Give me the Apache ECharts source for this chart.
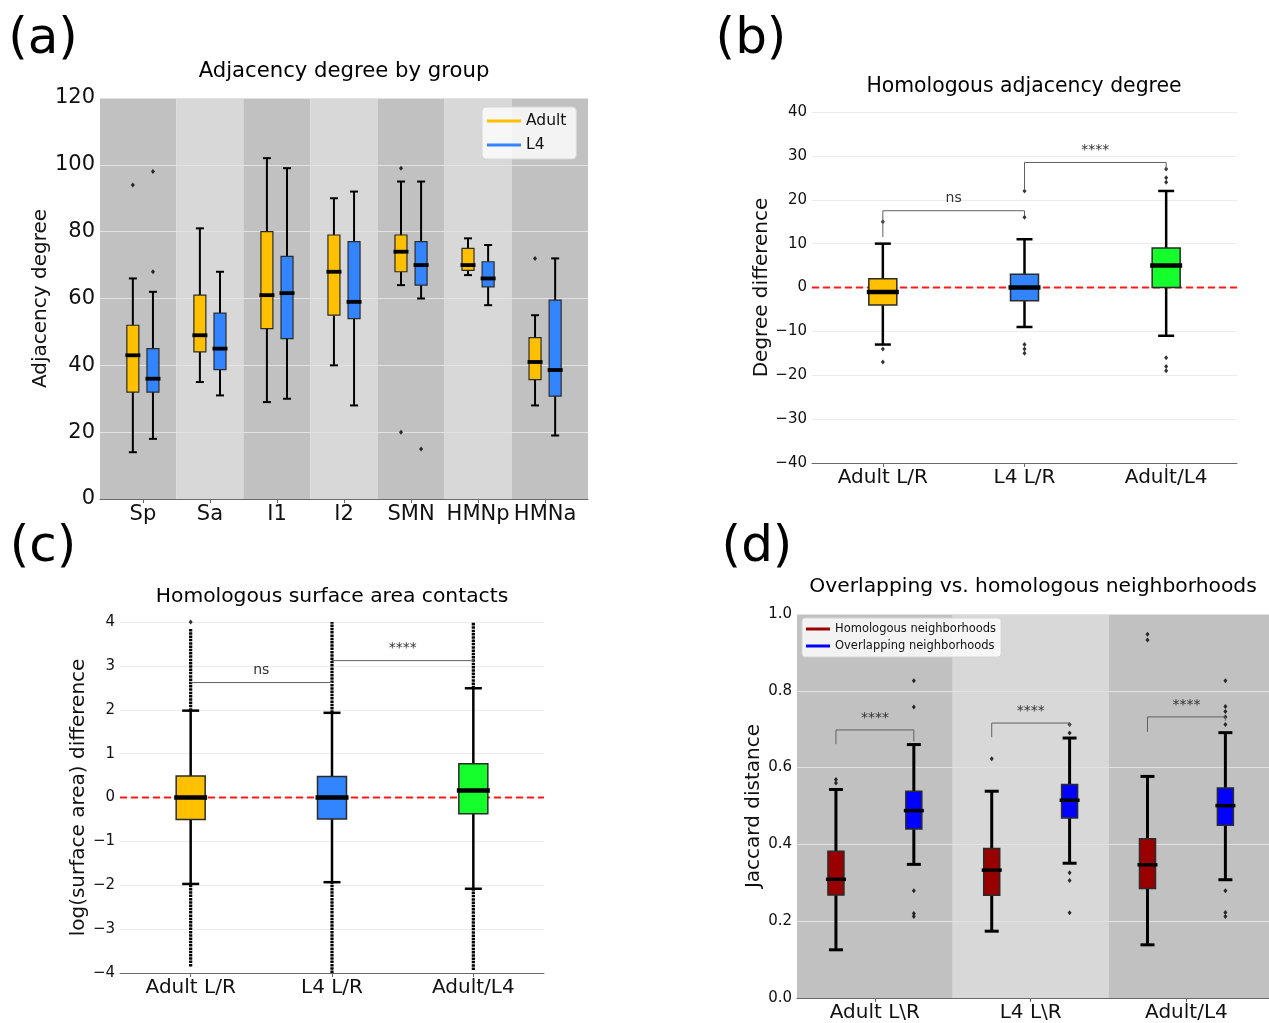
<!DOCTYPE html>
<html>
<head>
<meta charset="utf-8">
<title>Adjacency degree and neighborhood comparisons</title>
<script src="https://cdn.jsdelivr.net/npm/echarts@6/dist/echarts.min.js"></script>
<style>
  html, body { margin: 0; padding: 0; background: #fff; }
  #chart { width: 1269px; height: 1023px; }
</style>
</head>
<body>
<div id="chart"></div>
<script>
// (a) adjacency degree by group, boxes are [min, q1, median, q3, max]
const groupNames = ['Sp', 'Sa', 'I1', 'I2', 'SMN', 'HMNp', 'HMNa'];
const adultDegree = [
  [14, 32, 43, 52, 66],
  [35, 44, 49, 61, 81],
  [29, 51, 61, 80, 102],
  [40, 55, 68, 79, 90],
  [64, 68, 74, 79, 95],
  [67, 68.4, 70, 75, 78],
  [28, 35.7, 41, 48.3, 55]
];
const l4Degree = [
  [18, 32, 36, 45, 62],
  [31, 38.7, 45, 55.6, 68],
  [30, 48, 61.6, 72.6, 99],
  [28, 54, 59, 77, 92],
  [60, 64, 70, 77, 95],
  [58, 63.5, 66, 71, 76],
  [19, 30.8, 38.6, 59.5, 72]
];
// [group index, value]
const adultDegreeOutliers = [[0, 94], [4, 99], [4, 20], [6, 72]];
const l4DegreeOutliers = [[0, 98], [0, 68], [4, 15]];

// (b) homologous adjacency degree
const pairNames = ['Adult L/R', 'L4 L/R', 'Adult/L4'];
const degreeDiff = [
  [-13, -4, -1, 2, 10],
  [-9, -3, 0, 3, 11],
  [-11, 0, 5, 9, 22]
];
const degreeDiffOutliers = [
  [0, 15], [0, -14], [0, -17],
  [1, 16], [1, 22], [1, -13], [1, -14], [1, -15],
  [2, 27], [2, 25], [2, 24], [2, -16], [2, -18], [2, -19]
];
// [left, right, top, left leg end, right leg end]
const degreeBrackets = [[0, 1, 17.5, 11.5, 16.5], [1, 2, 28.5, 22.2, 27]];
const degreeStars = ['ns', '****'];

// (c) homologous surface area contacts
const areaDiff = [
  [-1.97, -0.5, 0, 0.49, 1.98],
  [-1.93, -0.49, 0, 0.48, 1.93],
  [-2.08, -0.37, 0.16, 0.77, 2.49]
];
// dense runs of outliers: [pair index, from, to]
const areaOutlierRuns = [
  [0, 1.98, 3.85], [0, -3.85, -1.97],
  [1, 1.93, 4.0], [1, -4.0, -1.93],
  [2, 2.49, 4.0], [2, -3.93, -2.08]
];
const areaOutliers = [[0, 4.0]];
const areaBrackets = [[0, 1, 2.62, 2.62, 2.62], [1, 2, 3.12, 3.12, 3.12]];
const areaStars = ['ns', '****'];

// (d) overlapping vs homologous neighborhoods
const neighborPairs = ['Adult L\\R', 'L4 L\\R', 'Adult/L4'];
const homologousJaccard = [
  [0.1255, 0.268, 0.309, 0.382, 0.543],
  [0.174, 0.2675, 0.333, 0.389, 0.5385],
  [0.1385, 0.285, 0.347, 0.415, 0.577]
];
const overlappingJaccard = [
  [0.348, 0.44, 0.488, 0.5385, 0.66],
  [0.351, 0.469, 0.515, 0.556, 0.677],
  [0.308, 0.45, 0.501, 0.547, 0.691]
];
const homologousOutliers = [[0, 0.569], [0, 0.56], [1, 0.623], [2, 0.947], [2, 0.932]];
const overlappingOutliers = [
  [0, 0.826], [0, 0.758], [0, 0.279], [0, 0.22], [0, 0.212],
  [1, 0.712], [1, 0.69], [1, 0.326], [1, 0.306], [1, 0.222],
  [2, 0.826], [2, 0.759], [2, 0.746], [2, 0.732], [2, 0.712], [2, 0.279], [2, 0.2225], [2, 0.212]
];
// [pair index, top, left leg end, right leg end]
const jaccardBrackets = [[0, 0.698, 0.661, 0.668], [1, 0.716, 0.679, 0.707], [2, 0.732, 0.693, 0.722]];

const FONT = '"DejaVu Sans"';
const minus = v => String(v).replace('-', '\u2212');

// box with whiskers, drawn through the axes of its grid
function boxItem(st) {
  return function (params, api) {
    const x = api.value(0) + st.shift;
    const p = [1, 2, 3, 4, 5].map(i => api.coord([x, api.value(i)]));
    const cx = p[0][0], hw = st.box / 2, hc = st.cap / 2;
    const ln = (x1, y1, x2, y2, w) => ({ type: 'line', shape: { x1, y1, x2, y2 }, style: { stroke: '#000', lineWidth: w } });
    return {
      type: 'group',
      children: [
        ln(cx, p[0][1], cx, p[1][1], st.whisker),
        ln(cx, p[3][1], cx, p[4][1], st.whisker),
        ln(cx - hc, p[0][1], cx + hc, p[0][1], st.whisker),
        ln(cx - hc, p[4][1], cx + hc, p[4][1], st.whisker),
        { type: 'rect', shape: { x: cx - hw, y: p[3][1], width: st.box, height: p[1][1] - p[3][1] },
          style: { fill: st.fill, stroke: '#2b2b2b', lineWidth: st.edge } },
        ln(cx - hw - st.ext, p[2][1], cx + hw + st.ext, p[2][1], st.median)
      ]
    };
  };
}

function boxSeries(name, idx, boxes, st) {
  return {
    type: 'custom', name: name, xAxisIndex: idx, yAxisIndex: idx, z: 3,
    itemStyle: { color: st.fill },
    data: boxes.map((b, i) => [i].concat(b)),
    encode: { x: 0, y: [1, 2, 3, 4, 5] },
    renderItem: boxItem(st)
  };
}

function outlierSeries(idx, pts, shift) {
  return {
    type: 'scatter', xAxisIndex: idx, yAxisIndex: idx, z: 4, silent: true,
    symbol: 'diamond', symbolSize: [4, 5], itemStyle: { color: '#000' },
    data: pts.map(d => [d[0] + shift, d[1]])
  };
}

// alternating gray shading behind each category, outer ones run to the plot edge
function bandSeries(idx, n) {
  return {
    type: 'custom', xAxisIndex: idx, yAxisIndex: idx, z: -1, silent: true,
    data: Array.from({ length: n }, (_, i) => [i]),
    renderItem(params, api) {
      const cs = params.coordSys;
      const c = api.value(0);
      const x0 = c === 0 ? cs.x : api.coord([c - 0.5, 0])[0];
      const x1 = c === n - 1 ? cs.x + cs.width : api.coord([c + 0.5, 0])[0];
      return { type: 'rect', shape: { x: x0, y: cs.y, width: x1 - x0, height: cs.height },
               style: { fill: c % 2 ? '#d8d8d8' : '#c1c1c1' } };
    }
  };
}

function bracketSeries(idx, items, labels) {
  return {
    type: 'custom', xAxisIndex: idx, yAxisIndex: idx, z: 5, silent: true,
    data: items,
    renderItem(params, api) {
      const l = api.coord([api.value(0), api.value(2)]), r = api.coord([api.value(1), api.value(2)]);
      const lb = api.coord([api.value(0), api.value(3)]), rb = api.coord([api.value(1), api.value(4)]);
      return {
        type: 'group',
        children: [
          { type: 'polyline', shape: { points: [lb, l, r, rb] }, style: { stroke: '#606060', lineWidth: 1, fill: null } },
          { type: 'text', style: { text: labels[params.dataIndex], x: (l[0] + r[0]) / 2, y: l[1] - 5,
            align: 'center', verticalAlign: 'bottom', fontSize: 14, fontFamily: FONT, fill: '#333' } }
        ]
      };
    }
  };
}

function zeroLine(idx, lo, hi) {
  return {
    type: 'line', xAxisIndex: idx, yAxisIndex: idx, z: 1, silent: true, symbol: 'none',
    lineStyle: { color: '#ff1a1a', width: 2, type: [7, 4] },
    data: [[lo, 0], [hi, 0]]
  };
}

function xAx(idx, names, min, max, fs) {
  const at = names.map((_, i) => i);
  return {
    type: 'value', gridIndex: idx, min: min, max: max,
    axisLine: { show: true, onZero: false, lineStyle: { color: '#6a6a6a', width: 1 } },
    axisTick: { show: true, customValues: at, length: 4, lineStyle: { color: '#6a6a6a' } },
    axisLabel: { customValues: at, formatter: v => names[Math.round(v)], fontSize: fs || 20,
                 color: '#111', fontFamily: FONT, margin: 5 },
    splitLine: { show: false }
  };
}

function yAx(idx, min, max, interval, name, gap, fs, grid, fmt) {
  return {
    type: 'value', gridIndex: idx, min: min, max: max, interval: interval,
    axisLine: { show: false }, axisTick: { show: false },
    splitLine: { show: true, lineStyle: { color: grid, width: 1 } },
    axisLabel: { fontSize: fs, color: '#111', fontFamily: FONT, margin: 5, formatter: fmt || minus },
    name: name, nameLocation: 'middle', nameGap: gap,
    nameTextStyle: { fontSize: 20, color: '#111', fontFamily: FONT }
  };
}

function label(text, x, y, size) {
  return { type: 'text', x: x, y: y,
    style: { text: text, fontSize: size, fontFamily: FONT, fill: '#000', align: 'center', verticalAlign: 'middle' } };
}

const gold = '#ffc000', blue = '#3385ff', green = '#14ff2c';
const aStyle = { box: 12, cap: 8, whisker: 2, median: 3.8, ext: 1.5, edge: 1.2 };
const bStyle = { box: 28, cap: 16, whisker: 2.5, median: 4.5, ext: 2, edge: 1.5, shift: 0 };
const dStyle = { box: 16, cap: 14, whisker: 3, median: 3.5, ext: 2, edge: 1.5 };

const option = {
  animation: false,
  grid: [
    { left: 100, top: 98, width: 488, height: 401 },
    { left: 812, top: 112, width: 425, height: 351 },
    { left: 120, top: 622, width: 424, height: 351 },
    { left: 797, top: 614, width: 473, height: 385 }
  ],
  xAxis: [
    xAx(0, groupNames, -0.64, 6.64, 21),
    xAx(1, pairNames, -0.5, 2.5),
    xAx(2, pairNames, -0.5, 2.5),
    xAx(3, neighborPairs, -0.5, 2.53)
  ],
  yAxis: [
    yAx(0, 0, 120, 20, 'Adjacency degree', 48, 21, '#e2e2e2'),
    yAx(1, -40, 40, 10, 'Degree difference', 38, 15, '#ececec'),
    yAx(2, -4, 4, 1, 'log(surface area) difference', 28, 15, '#ececec'),
    yAx(3, 0, 1, 0.2, 'Jaccard distance', 30, 15, '#e2e2e2', v => v.toFixed(1))
  ],
  legend: [
    { data: ['Adult', 'L4'], left: 482, top: 107, orient: 'vertical', icon: 'rect',
      itemWidth: 34, itemHeight: 3, itemGap: 8, padding: [6, 10, 6, 5], selectedMode: false,
      backgroundColor: 'rgba(255,255,255,0.8)', borderColor: '#d6d6d6', borderWidth: 1, borderRadius: 4,
      textStyle: { fontSize: 15.5, fontFamily: FONT, color: '#111' } },
    { data: ['Homologous neighborhoods', 'Overlapping neighborhoods'], left: 802, top: 618, orient: 'vertical',
      icon: 'rect', itemWidth: 24, itemHeight: 3, itemGap: 5, padding: [5, 5, 5, 4], selectedMode: false,
      backgroundColor: 'rgba(255,255,255,0.8)', borderColor: '#d6d6d6', borderWidth: 1, borderRadius: 3,
      textStyle: { fontSize: 11.5, fontFamily: FONT, color: '#111' } }
  ],
  graphic: [
    label('(a)', 43, 40, 50), label('(b)', 751, 40, 50),
    label('(c)', 43, 548, 50), label('(d)', 757, 548, 50),
    label('Adjacency degree by group', 344, 71, 21.2),
    label('Homologous adjacency degree', 1024, 87, 20.4),
    label('Homologous surface area contacts', 332, 597, 20.3),
    label('Overlapping vs. homologous neighborhoods', 1033, 587, 20.3)
  ],
  series: [
    // (a)
    bandSeries(0, groupNames.length),
    boxSeries('Adult', 0, adultDegree, Object.assign({ fill: gold, shift: -0.15 }, aStyle)),
    boxSeries('L4', 0, l4Degree, Object.assign({ fill: blue, shift: 0.15 }, aStyle)),
    outlierSeries(0, adultDegreeOutliers, -0.15),
    outlierSeries(0, l4DegreeOutliers, 0.15),
    // (b)
    zeroLine(1, -0.5, 2.5),
    Object.assign(boxSeries('deg', 1, degreeDiff, Object.assign({ fill: gold }, bStyle)), {
      renderItem: (p, api) => boxItem(Object.assign({ fill: [gold, blue, green][p.dataIndex] }, bStyle))(p, api)
    }),
    outlierSeries(1, degreeDiffOutliers, 0),
    bracketSeries(1, degreeBrackets, degreeStars),
    // (c)
    zeroLine(2, -0.5, 2.5),
    {
      type: 'custom', xAxisIndex: 2, yAxisIndex: 2, z: 2, silent: true, data: areaOutlierRuns,
      renderItem(params, api) {
        const a = api.coord([api.value(0), api.value(1)]), b = api.coord([api.value(0), api.value(2)]);
        return { type: 'line', shape: { x1: a[0], y1: a[1], x2: b[0], y2: b[1] },
                 style: { stroke: '#000', lineWidth: 3.2, lineDash: [2.5, 0.8] } };
      }
    },
    Object.assign(boxSeries('area', 2, areaDiff, Object.assign({ fill: gold }, bStyle)), {
      renderItem: (p, api) => boxItem(Object.assign({ fill: [gold, blue, green][p.dataIndex] }, bStyle, { box: 29, cap: 17 }))(p, api)
    }),
    outlierSeries(2, areaOutliers, 0),
    bracketSeries(2, areaBrackets, areaStars),
    // (d)
    bandSeries(3, neighborPairs.length),
    boxSeries('Homologous neighborhoods', 3, homologousJaccard, Object.assign({ fill: '#990000', shift: -0.25 }, dStyle)),
    boxSeries('Overlapping neighborhoods', 3, overlappingJaccard, Object.assign({ fill: '#0000ff', shift: 0.25 }, dStyle)),
    outlierSeries(3, homologousOutliers, -0.25),
    outlierSeries(3, overlappingOutliers, 0.25),
    bracketSeries(3, jaccardBrackets.map(b => [b[0] - 0.25, b[0] + 0.25, b[1], b[2], b[3]]), ['****', '****', '****'])
  ]
};

const chart = echarts.init(document.getElementById('chart'), null, { renderer: 'canvas' });
chart.setOption(option);
</script>
</body>
</html>
